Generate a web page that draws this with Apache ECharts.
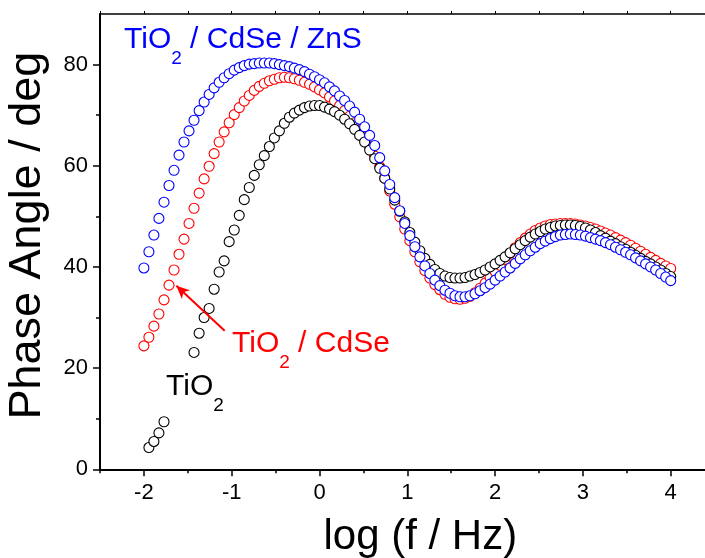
<!DOCTYPE html>
<html>
<head>
<meta charset="utf-8">
<script src="https://cdn.jsdelivr.net/npm/echarts@6/dist/echarts.min.js"></script>
<style>html,body{margin:0;padding:0;background:#fff}#c{width:705px;height:558px}</style>
</head>
<body>
<div id="c"></div>
<script>
// log(f/Hz) sampling points (shared by all series)
const logF = [-2.000,-1.943,-1.886,-1.829,-1.771,-1.714,-1.657,-1.600,-1.543,-1.486,
-1.429,-1.371,-1.314,-1.257,-1.200,-1.143,-1.086,-1.029,-0.971,-0.914,
-0.857,-0.800,-0.743,-0.686,-0.629,-0.571,-0.514,-0.457,-0.400,-0.343,
-0.286,-0.229,-0.171,-0.114,-0.057,0.000,0.057,0.114,0.171,0.229,
0.286,0.343,0.400,0.457,0.514,0.571,0.629,0.686,0.743,0.800,
0.857,0.914,0.971,1.029,1.086,1.143,1.200,1.257,1.314,1.371,
1.429,1.486,1.543,1.600,1.657,1.714,1.771,1.829,1.886,1.943,
2.000,2.057,2.114,2.171,2.229,2.286,2.343,2.400,2.457,2.514,
2.571,2.629,2.686,2.743,2.800,2.857,2.914,2.971,3.029,3.086,
3.143,3.200,3.257,3.314,3.371,3.429,3.486,3.543,3.600,3.657,
3.714,3.771,3.829,3.886,3.943,4.000];

// Phase angle (deg)
const phaseTiO2 = [null,4.3,5.5,7.2,9.4,null,null,null,null,null,
23.1,26.9,30.0,31.8,35.6,39.0,41.2,45.0,47.3,50.2,
53.3,55.7,58.1,60.2,62.0,63.8,65.5,66.9,68.4,69.6,
70.4,71.0,71.5,71.8,71.9,71.9,71.6,71.2,70.7,70.0,
69.2,68.3,67.2,66.0,64.7,63.1,61.4,59.5,57.5,55.4,
53.2,51.0,48.9,46.8,44.9,43.2,41.7,40.5,39.5,38.7,
38.2,37.9,37.8,37.8,37.9,38.2,38.5,38.9,39.4,40.0,
40.6,41.3,42.0,42.8,43.6,44.4,45.2,45.9,46.5,47.0,
47.5,47.8,48.1,48.2,48.3,48.3,48.2,48.0,47.7,47.3,
46.8,46.2,45.7,45.1,44.6,44.0,43.5,42.9,42.3,41.7,
41.1,40.6,40.0,39.4,38.7,38.1];

const phaseCdSe = [24.4,26.1,28.3,30.7,33.5,36.4,39.4,42.5,45.5,48.6,
51.6,54.6,57.4,59.9,62.4,64.7,66.7,68.5,70.1,71.5,
72.8,73.9,74.9,75.7,76.3,76.8,77.1,77.4,77.5,77.4,
77.2,76.9,76.5,76.1,75.6,75.0,74.4,73.6,72.8,71.9,
70.9,69.8,68.5,67.1,65.5,63.8,61.9,59.8,57.6,55.0,
52.4,49.9,47.5,45.2,43.0,41.0,39.3,37.8,36.5,35.5,
34.6,34.0,33.7,33.6,33.8,34.2,34.9,35.8,36.8,37.9,
39.1,40.3,41.5,42.7,43.8,44.8,45.7,46.5,47.2,47.7,
48.1,48.4,48.5,48.6,48.6,48.6,48.5,48.3,48.1,47.8,
47.5,47.1,46.7,46.3,45.8,45.3,44.8,44.3,43.7,43.1,
42.5,41.9,41.3,40.7,40.2,39.7];

const phaseZnS = [39.8,43.0,46.3,49.6,52.8,56.1,59.1,62.1,64.7,66.9,
69.0,70.9,72.6,74.1,75.4,76.5,77.4,78.2,78.9,79.4,
79.8,80.1,80.2,80.3,80.3,80.3,80.2,80.0,79.8,79.6,
79.3,79.0,78.6,78.1,77.6,77.0,76.4,75.6,74.8,73.8,
72.9,71.8,70.6,69.2,67.7,66.0,64.0,61.6,59.0,56.3,
53.7,51.1,48.6,46.2,44.0,42.0,40.2,38.7,37.4,36.3,
35.4,34.8,34.3,34.1,34.1,34.3,34.7,35.3,35.9,36.6,
37.4,38.2,39.0,39.8,40.7,41.6,42.4,43.2,43.9,44.6,
45.1,45.6,46.0,46.3,46.4,46.5,46.4,46.3,46.1,45.8,
45.5,45.2,44.8,44.4,43.9,43.4,42.9,42.4,41.8,41.2,
40.6,40.0,39.4,38.7,38.0,37.3];

const xMajorTicks = [-2,-1,0,1,2,3,4];
const xMinorTicks = [-2.5,-1.5,-0.5,0.5,1.5,2.5,3.5,4.5];
const xTopTicks = [-2.5,-2,-1.5,-1,-0.5,0,0.5,1,1.5,2,2.5,3,3.5,4,4.5];
const yMajorTicks = [0,20,40,60,80];
const yMinorTicks = [10,30,50,70];

const FONT = '"Liberation Sans", Arial, sans-serif';
const pairs = ys => logF.map((x,i)=>[x, ys[i]]);

const chart = echarts.init(document.getElementById('c'), null, {renderer:'canvas'});
const baseX = {type:'value', min:-2.5, max:4.5, splitLine:{show:false}};
const baseY = {type:'value', min:0, max:90, splitLine:{show:false}};
const scatter = (name, ys, color, z) => ({
  name, type:'line', data: pairs(ys), showSymbol:true, symbol:'circle', symbolSize:10,
  lineStyle:{width:0, opacity:0}, connectNulls:false, z,
  itemStyle:{color:'#fff', borderColor:color, borderWidth:1.1, opacity:1},
  emphasis:{disabled:true}, animation:false
});

const redSeries = scatter('TiO2 / CdSe', phaseCdSe, '#ff0000', 2);
redSeries.markLine = {
  silent:true, animation:false, symbol:['none','arrow'], symbolSize:[9,13],
  label:{show:false},
  lineStyle:{color:'#ff0000', width:2, type:'solid'},
  data:[[{coord:[-1.08,27.4]},{coord:[-1.63,36.3]}]]
};

const labelRich = color => ({
  a:{fontFamily:FONT, fontSize:30, lineHeight:56, verticalAlign:'middle', fill:color},
  b:{fontFamily:FONT, fontSize:19, lineHeight:20, verticalAlign:'bottom', fill:color}
});

chart.setOption({
  animation:false,
  backgroundColor:'#fff',
  grid:{left:100, top:14, width:614.6, height:455.3, containLabel:false, outerBoundsMode:'none'},
  xAxis:[
    Object.assign({}, baseX, {position:'bottom',
      name:'log (f / Hz)', nameLocation:'middle', nameGap:47,
      nameTextStyle:{fontFamily:FONT, fontSize:42, color:'#000', padding:[0,0,0,26]},
      axisLine:{show:true, onZero:false, lineStyle:{color:'#000', width:2}},
      axisTick:{show:true, inside:false, length:7, customValues:xMajorTicks, lineStyle:{color:'#000', width:1.5}},
      axisLabel:{show:true, customValues:xMajorTicks, margin:13, fontFamily:FONT, fontSize:22, color:'#000'}}),
    Object.assign({}, baseX, {position:'bottom',
      axisLine:{show:false, onZero:false},
      axisTick:{show:true, inside:false, length:4, customValues:xMinorTicks, lineStyle:{color:'#000', width:1.5}},
      axisLabel:{show:false}}),
    Object.assign({}, baseX, {position:'top',
      axisLine:{show:true, onZero:false, lineStyle:{color:'#000', width:1.5}},
      axisTick:{show:true, inside:false, length:3, customValues:xTopTicks, lineStyle:{color:'#000', width:1}},
      axisLabel:{show:false}})
  ],
  yAxis:[
    Object.assign({}, baseY, {position:'left',
      name:'Phase Angle / deg', nameLocation:'middle', nameGap:50, nameRotate:90,
      nameTextStyle:{fontFamily:FONT, fontSize:45, color:'#000', padding:[0,0,0,12]},
      axisLine:{show:true, onZero:false, lineStyle:{color:'#000', width:2}},
      axisTick:{show:true, inside:false, length:7, customValues:yMajorTicks, lineStyle:{color:'#000', width:1.5}},
      axisLabel:{show:true, customValues:yMajorTicks, margin:12, fontFamily:FONT, fontSize:22, color:'#000'}}),
    Object.assign({}, baseY, {position:'left',
      axisLine:{show:false, onZero:false},
      axisTick:{show:true, inside:false, length:4, customValues:yMinorTicks, lineStyle:{color:'#000', width:1.5}},
      axisLabel:{show:false}})
  ],
  series:[
    redSeries,
    scatter('TiO2', phaseTiO2, '#000000', 3),
    scatter('TiO2 / CdSe / ZnS', phaseZnS, '#0000ff', 4)
  ],
  graphic:[
    {type:'text', left:124, top:25, silent:true, style:{
      text:'{a|TiO}{b|2}{a| / CdSe / ZnS}', fill:'#0000ff', rich:labelRich('#0000ff')}},
    {type:'text', left:232, top:329, silent:true, style:{
      text:'{a|TiO}{b|2}{a| / CdSe}', fill:'#ff0000', rich:labelRich('#ff0000')}},
    {type:'text', left:166, top:372, silent:true, style:{
      text:'{a|TiO}{b|2}', fill:'#000', rich:labelRich('#000')}}
  ]
});
</script>
</body>
</html>
